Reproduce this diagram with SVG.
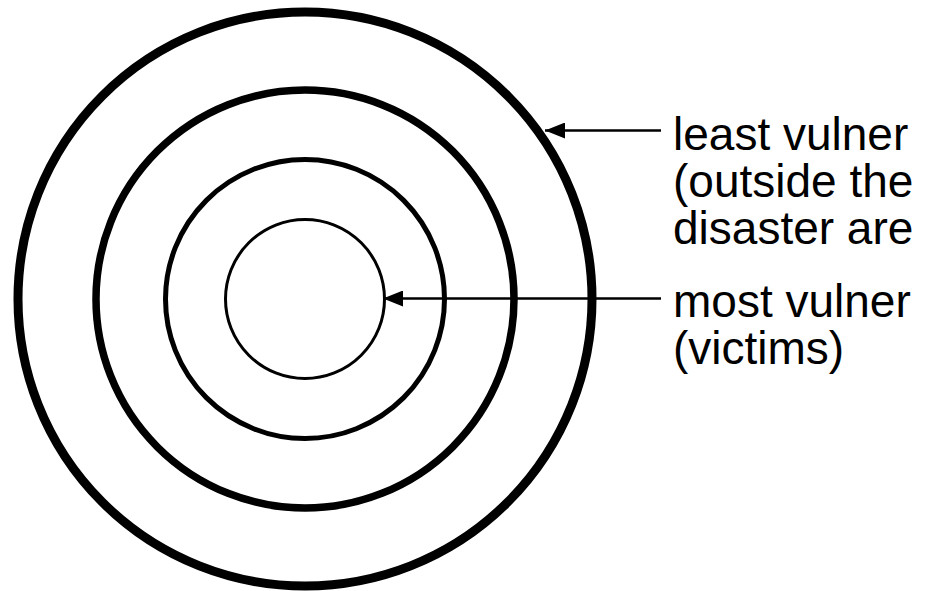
<svg xmlns="http://www.w3.org/2000/svg" width="932" height="591" viewBox="0 0 932 591">
<style>
.ring{fill:none;stroke:#000}
.lbl{font-family:"Liberation Sans",Arial,sans-serif;font-size:46px;fill:#000}
.conn{stroke:#000;stroke-width:2.5;fill:none}
</style>
<defs>
<marker id="ah" markerWidth="20" markerHeight="16" refX="20" refY="8" orient="auto" markerUnits="userSpaceOnUse">
<path d="M0,0 L20,8 L0,16 Z" fill="#000"/>
</marker>
</defs>
<rect width="932" height="591" fill="#fff"/>
<g id="ring-outer"><circle class="ring" cx="305" cy="299" r="287" stroke-width="9"/></g>
<g id="ring-2"><circle class="ring" cx="305" cy="299" r="209" stroke-width="7.5"/></g>
<g id="ring-3"><circle class="ring" cx="305" cy="299" r="139.5" stroke-width="5"/></g>
<g id="ring-inner"><circle class="ring" cx="305" cy="299" r="79.5" stroke-width="3"/></g>
<g id="connectors">
<line class="conn" x1="661" y1="130.5" x2="545" y2="130.5" marker-end="url(#ah)"/>
<line class="conn" x1="661" y1="298.5" x2="383" y2="298.5" marker-end="url(#ah)"/>
</g>
<g id="label-least">
<text class="lbl" x="673" y="150">least vulner</text>
<text class="lbl" x="673" y="197">(outside the</text>
<text class="lbl" x="673" y="244">disaster are</text>
</g>
<g id="label-most">
<text class="lbl" x="673" y="317">most vulner</text>
<text class="lbl" x="673" y="364">(victims)</text>
</g>
</svg>
